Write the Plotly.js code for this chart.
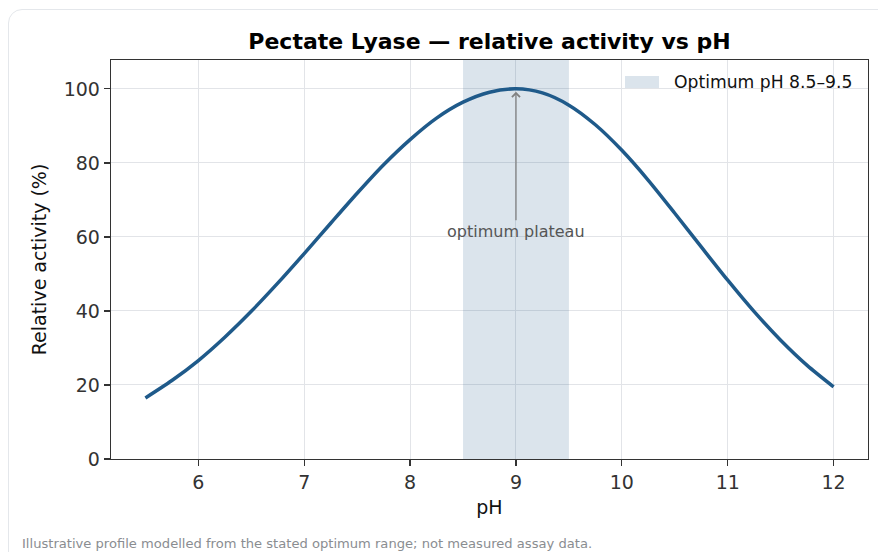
<!DOCTYPE html>
<html>
<head>
<meta charset="utf-8">
<script src="https://cdn.plot.ly/plotly-3.0.1.min.js"></script>
<style>
  html, body { margin: 0; padding: 0; background: #ffffff; }
  #card { position: absolute; left: 8px; top: 9px; width: 900px; height: 600px;
          border: 1.5px solid #e4e7eb; border-radius: 14px; background: #ffffff; }
  #chart { position: absolute; left: 0; top: 0; width: 878px; height: 552px; }
</style>
</head>
<body>
<div id="card"></div>
<div id="chart"></div>
<script>
// pH values and relative activity (%)
const pH = [5.5, 5.75, 6.0, 6.25, 6.5, 6.75, 7.0, 7.25, 7.5, 7.75, 8.0, 8.25, 8.5, 8.75, 9.0,
            9.25, 9.5, 9.75, 10.0, 10.25, 10.5, 10.75, 11.0, 11.25, 11.5, 11.75, 12.0];
const activity = [16.5, 21.2, 26.6, 32.9, 39.9, 47.5, 55.5, 63.7, 71.8, 79.5, 86.3, 92.1, 96.4, 99.1, 100.0,
                  98.9, 95.6, 90.3, 83.4, 75.3, 66.4, 57.3, 48.3, 39.8, 32.1, 25.3, 19.5];
const optimumBand = [8.5, 9.5];
const optimumLabel = "Optimum pH 8.5–9.5";
const peak = [9.0, 100.0];
const annotationText = "optimum plateau";
const annotationTextY = 61.5;
const xTicks = [6, 7, 8, 9, 10, 11, 12];
const yTicks = [0, 20, 40, 60, 80, 100];
const xRange = [5.175, 12.325];
const yRange = [0, 107.8];

const lineColor = "#1f5a8a";
const bandColor = "rgba(31,90,138,0.16)";
const font = "DejaVu Sans, sans-serif";

const M = { l: 111, r: 10, t: 60, b: 93 };
const W = 878, H = 552;
const plotW = W - M.l - M.r, plotH = H - M.t - M.b;
const px = (x) => (x - M.l) / plotW;          // pixel -> paper x
const py = (y) => (H - M.b - y) / plotH;      // pixel -> paper y

const band = {
  x: [optimumBand[0], optimumBand[1], optimumBand[1], optimumBand[0], optimumBand[0]],
  y: [yRange[0], yRange[0], yRange[1], yRange[1], yRange[0]],
  type: "scatter", mode: "none", fill: "toself",
  fillcolor: bandColor, name: optimumLabel, showlegend: false, hoverinfo: "skip"
};
const curve = {
  x: pH, y: activity, type: "scatter", mode: "lines",
  line: { color: lineColor, width: 3.5, shape: "spline", smoothing: 0.8 },
  showlegend: false
};

const layout = {
  width: W, height: H,
  margin: M,
  paper_bgcolor: "rgba(0,0,0,0)", plot_bgcolor: "rgba(0,0,0,0)",
  font: { family: font, color: "#333333", size: 19 },
  showlegend: false,
  title: { text: "<b>Pectate Lyase — relative activity vs pH</b>",
           font: { family: font, size: 22, color: "#000000" },
           x: 0.5575, xanchor: "center", y: 0.925, yanchor: "middle" },
  xaxis: {
    range: xRange, tickvals: xTicks, ticktext: xTicks.map(String),
    showgrid: true, gridcolor: "#e2e4e8", gridwidth: 1,
    showline: true, linecolor: "#333333", linewidth: 1.3, mirror: true,
    ticks: "outside", ticklen: 6, tickcolor: "#333333", tickwidth: 1.2,
    tickfont: { size: 19, color: "#333333" }, zeroline: false,
    title: { text: "pH", font: { size: 19, color: "#111111" }, standoff: 8 }
  },
  yaxis: {
    range: yRange, tickvals: yTicks, ticktext: yTicks.map(String),
    showgrid: true, gridcolor: "#e2e4e8", gridwidth: 1,
    showline: true, linecolor: "#333333", linewidth: 1.3, mirror: true,
    ticks: "outside", ticklen: 6, tickcolor: "#333333", tickwidth: 1.2,
    tickfont: { size: 19, color: "#333333" }, zeroline: false,
    title: { text: "Relative activity (%)", font: { size: 19, color: "#111111" }, standoff: 12 }
  },
  shapes: [
    // legend patch for the optimum band
    { type: "rect", xref: "paper", yref: "paper",
      x0: px(625), x1: px(659), y0: py(88), y1: py(76),
      fillcolor: bandColor, line: { width: 0 } }
  ],
  annotations: [
    {
      x: px(672), y: py(82), xref: "paper", yref: "paper", xanchor: "left", yanchor: "middle",
      text: optimumLabel, showarrow: false,
      font: { size: 17.2, color: "#111111", family: font }
    },
    {
      x: peak[0], y: peak[1], xref: "x", yref: "y",
      ax: peak[0], ay: annotationTextY, axref: "x", ayref: "y",
      text: annotationText, showarrow: true, standoff: 3,
      arrowhead: 4, arrowsize: 1.2, arrowwidth: 1.3, arrowcolor: "#808080",
      font: { size: 16, color: "#555555", family: font }
    },
    {
      x: px(20), y: py(543), xref: "paper", yref: "paper", xanchor: "left", yanchor: "middle",
      text: "Illustrative profile modelled from the stated optimum range; not measured assay data.",
      showarrow: false, font: { size: 13.1, color: "#8a8d91", family: font }
    }
  ]
};

Plotly.newPlot("chart", [band, curve], layout, { displayModeBar: false, staticPlot: true });
</script>
</body>
</html>
